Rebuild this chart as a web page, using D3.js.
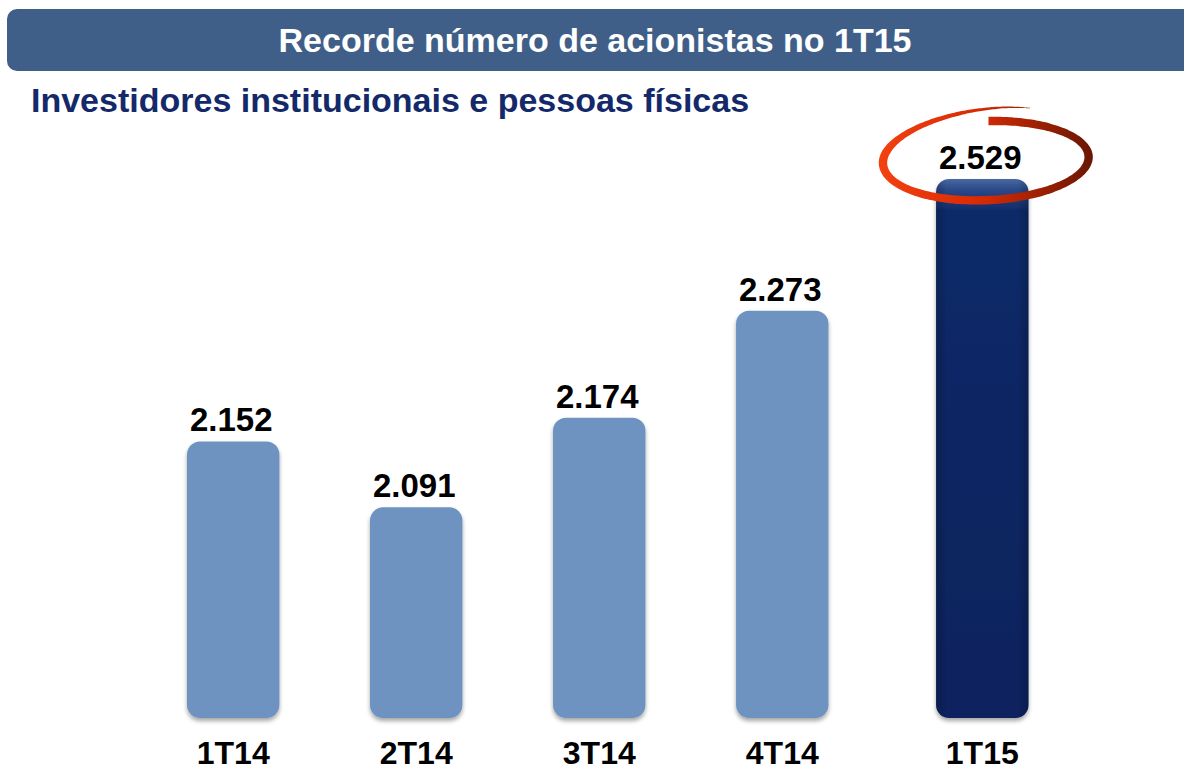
<!DOCTYPE html>
<html>
<head>
<meta charset="utf-8">
<script src="https://cdn.jsdelivr.net/npm/d3@7"></script>
<style>
  body { margin: 0; background: #fff; }
  svg { display: block; font-family: "Liberation Sans", Arial, sans-serif; }
</style>
</head>
<body>
<div id="chart"></div>
<script>
// data
const quarters = ["1T14", "2T14", "3T14", "4T14", "1T15"]
const shareholders = [2152, 2091, 2174, 2273, 2529]
const recordQuarter = "1T15"
const title = "Recorde número de acionistas no 1T15"
const subtitle = "Investidores institucionais e pessoas físicas"

const width = 1184, height = 771
const baseY = 718, topY = 179

const svg = d3.select("#chart").append("svg")
    .attr("width", width)
    .attr("height", height)

const defs = svg.append("defs")

// drop shadow under the bars
const shadow = defs.append("filter").attr("id", "shadow")
    .attr("x", "-10%").attr("y", "-10%").attr("width", "120%").attr("height", "125%")
shadow.append("feDropShadow")
    .attr("dx", 0).attr("dy", 3).attr("stdDeviation", 2.2)
    .attr("flood-color", "#000").attr("flood-opacity", 0.35)

// gloss gradient for the record bar
defs.append("linearGradient")
    .attr("id", "record-grad")
    .attr("x1", 0).attr("y1", 0).attr("x2", 0).attr("y2", 1)
    .selectAll("stop")
    .data([
        { offset: "0%", color: "#4a68a3" },
        { offset: "2%", color: "#2a4888" },
        { offset: "6%", color: "#0e2a68" },
        { offset: "100%", color: "#09235e" }
    ])
    .enter().append("stop")
    .attr("offset", d => d.offset)
    .attr("stop-color", d => d.color)

defs.append("linearGradient")
    .attr("id", "record-side")
    .attr("x1", 0).attr("y1", 0).attr("x2", 1).attr("y2", 0)
    .selectAll("stop")
    .data([
        { offset: "0%", color: "#000", op: 0.2 },
        { offset: "12%", color: "#000", op: 0 },
        { offset: "88%", color: "#000", op: 0 },
        { offset: "100%", color: "#000", op: 0.2 }
    ])
    .enter().append("stop")
    .attr("offset", d => d.offset)
    .attr("stop-color", d => d.color)
    .attr("stop-opacity", d => d.op)

// header band
svg.append("rect")
    .attr("x", 7).attr("y", 9)
    .attr("width", width + 20).attr("height", 62)
    .attr("rx", 10)
    .attr("fill", "#3f5f89")

svg.append("text")
    .attr("x", 595).attr("y", 52)
    .attr("text-anchor", "middle")
    .attr("font-size", 34).attr("font-weight", "bold")
    .attr("fill", "#fff")
    .text(title)

svg.append("text")
    .attr("x", 31).attr("y", 112)
    .attr("font-size", 34).attr("font-weight", "bold")
    .attr("fill", "#14296a")
    .text(subtitle)

// scales: broken axis, record bar is clamped at the top
const x = d3.scaleBand()
    .domain(quarters)
    .range([187, 1011.5])
    .paddingInner(0.495)
    .paddingOuter(0)

const recordShift = 17

const y = d3.scaleLinear()
    .domain([1896, 2395])
    .range([baseY, topY])
    .clamp(true)

const ptBR = d3.formatLocale({ decimal: ",", thousands: ".", grouping: [3], currency: ["R$", ""] })
const fmt = ptBR.format(",d")

const data = quarters.map((q, i) => ({ q, v: shareholders[i] }))
const bx = d => x(d.q) + (d.q === recordQuarter ? recordShift : 0)

const bars = svg.append("g")

bars.selectAll("rect.bar")
    .data(data)
    .enter().append("rect")
    .attr("class", "bar")
    .attr("x", bx)
    .attr("y", d => y(d.v))
    .attr("width", x.bandwidth())
    .attr("height", d => baseY - y(d.v))
    .attr("rx", 13)
    .attr("fill", d => d.q === recordQuarter ? "url(#record-grad)" : "#6e93c0")
    .attr("filter", "url(#shadow)")

bars.selectAll("rect.side")
    .data(data.filter(d => d.q === recordQuarter))
    .enter().append("rect")
    .attr("class", "side")
    .attr("x", bx)
    .attr("y", d => y(d.v))
    .attr("width", x.bandwidth())
    .attr("height", d => baseY - y(d.v))
    .attr("rx", 13)
    .attr("fill", "url(#record-side)")

// value labels
svg.append("g").selectAll("text")
    .data(data)
    .enter().append("text")
    .attr("x", d => bx(d) + x.bandwidth() / 2 - 2)
    .attr("y", d => y(d.v) - 10)
    .attr("text-anchor", "middle")
    .attr("font-size", 33).attr("font-weight", "bold")
    .attr("fill", "#000")
    .text(d => fmt(d.v))

// category labels
svg.append("g").selectAll("text")
    .data(data)
    .enter().append("text")
    .attr("x", d => bx(d) + x.bandwidth() / 2)
    .attr("y", 764)
    .attr("text-anchor", "middle")
    .attr("font-size", 32).attr("font-weight", "bold")
    .attr("fill", "#000")
    .text(d => d.q)

// hand-drawn ring around the record value
const rec = data.find(d => d.q === recordQuarter)
const cx = bx(rec) + x.bandwidth() / 2 + 4, cy = y(rec.v) - 19
const rx = 104, ry = 40
const a0 = -64, a1 = -448

defs.append("linearGradient")
    .attr("id", "ring-grad")
    .attr("gradientUnits", "userSpaceOnUse")
    .attr("x1", cx - rx).attr("y1", 0).attr("x2", cx + rx).attr("y2", 0)
    .selectAll("stop")
    .data([
        { offset: "0%", color: "#f2400e" },
        { offset: "45%", color: "#d92c05" },
        { offset: "100%", color: "#6b1703" }
    ])
    .enter().append("stop")
    .attr("offset", d => d.offset)
    .attr("stop-color", d => d.color)

const ringPts = d3.range(0, 1.0001, 0.005).map(t => {
    const a = (a0 + (a1 - a0) * t) * Math.PI / 180
    const p = Math.abs(a1 - a0) * t
    const sy = 1 + 0.4 * Math.exp(-p / 70) - 0.03 * t
    const sx = 1 - 0.02 * t
    const w = 0.6 + 7.8 * Math.min(1, p / 100)
    const ex = Math.cos(a), ey = Math.sin(a)
    return {
        x0: cx + (rx * sx - w / 2) * ex, y0: cy + (ry * sy - w / 2) * ey,
        x1: cx + (rx * sx + w / 2) * ex, y1: cy + (ry * sy + w / 2) * ey
    }
})

svg.append("path")
    .datum(ringPts)
    .attr("d", d3.area()
        .x0(d => d.x0).y0(d => d.y0)
        .x1(d => d.x1).y1(d => d.y1)
        .curve(d3.curveBasis))
    .attr("transform", `rotate(-2, ${cx}, ${cy})`)
    .attr("fill", "url(#ring-grad)")
</script>
</body>
</html>
